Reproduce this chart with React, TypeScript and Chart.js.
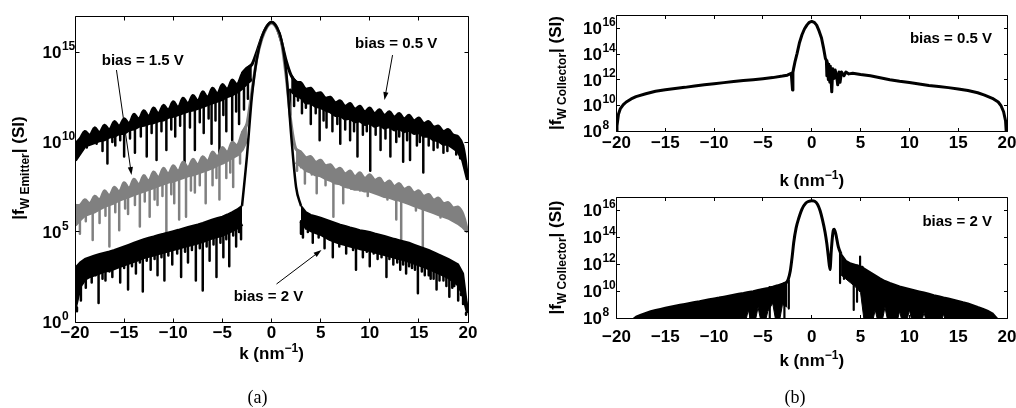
import React, { useEffect, useRef } from 'react';
import { Chart, registerables } from 'chart.js';

Chart.register(...registerables);

const N = null;

// sampling grid of k (nm^-1)
const K_GRID = [-20,-19.5,-19,-18.5,-18,-17.5,-17,-16.5,-16,-15.5,-15,-14.5,-14,-13.5,-13,-12.5,-12,-11.5,-11,-10.5,-10,-9.5,-9,-8.5,-8,-7.5,-7,-6.5,-6,-5.5,-5,-4.5,-4,-3.5,-3,-2.5,-2,-1.5,-1,-0.5,0,0.5,1,1.5,2,2.5,3,3.5,4,4.5,5,5.5,6,6.5,7,7.5,8,8.5,9,9.5,10,10.5,11,11.5,12,12.5,13,13.5,14,14.5,15,15.5,16,16.5,17,17.5,18,18.5,19,19.5,20];

const X_TICKS = [-20, -15, -10, -5, 0, 5, 10, 15, 20];
const X_TICK_LABELS = ['−20', '−15', '−10', '−5', '0', '5', '10', '15', '20'];
const Y_TICKS_A = [0, 5, 10, 15];
const Y_TICK_EXP_A = ['0', '5', '10', '15'];
const Y_TICKS_B = [8, 10, 12, 14, 16];
const Y_TICK_EXP_B = ['8', '10', '12', '14', '16'];

// ---- Panel (a): |f_W Emitter|, values are log10 ----
const TOP_05 = [9.9,10.2,10.6,10.4,10.8,10.55,10.95,10.7,11.15,10.9,11.3,11.05,11.55,11.3,11.75,11.45,11.9,11.6,12.05,11.8,12.25,11.95,12.45,12.15,12.6,12.3,12.8,12.5,13.0,12.7,13.2,12.95,13.45,13.2,13.8,14.1,14.3,
  N,N,N,N,N,N,N,
  13.7,13.35,13.3,12.95,13.0,12.7,12.75,12.45,12.5,12.2,12.3,12.0,12.15,11.85,12.0,11.7,11.9,11.6,11.8,11.5,11.7,11.4,11.6,11.3,11.5,11.2,11.35,11.05,11.15,10.85,10.9,10.6,10.7,10.4,10.3,9.8,7.9];
const BOT_05 = [9.0,9.4,9.8,9.9,10.0,10.1,10.15,10.3,10.35,10.5,10.5,10.7,10.75,10.9,10.95,11.05,11.1,11.2,11.25,11.4,11.45,11.55,11.65,11.75,11.8,11.9,12.0,12.1,12.2,12.3,12.4,12.55,12.65,12.8,13.0,13.3,13.5,
  N,N,N,N,N,N,N,
  12.9,12.6,12.5,12.2,12.2,12.0,11.95,11.8,11.7,11.5,11.5,11.3,11.35,11.15,11.2,11.0,11.1,10.9,11.0,10.8,10.9,10.7,10.8,10.6,10.7,10.5,10.55,10.35,10.35,10.15,10.1,9.9,9.9,9.7,9.5,9.0,7.9];
const TOP_15 = [6.5,6.5,6.8,6.6,7.0,6.8,7.3,7.05,7.5,7.25,7.75,7.45,7.95,7.65,8.15,7.85,8.35,8.05,8.55,8.25,8.7,8.4,8.9,8.6,9.05,8.75,9.2,8.95,9.45,9.2,9.7,9.45,10.0,9.8,10.5,11.0,
  N,N,N,N,N,N,N,N,N,
  9.6,9.45,9.15,9.2,8.9,9.0,8.7,8.75,8.45,8.55,8.25,8.4,8.1,8.3,8.0,8.2,7.9,8.0,7.7,7.85,7.55,7.7,7.4,7.5,7.2,7.3,7.0,7.1,6.8,6.9,6.6,6.65,6.35,6.4,6.0,5.0];
const BOT_15 = [5.4,5.7,5.95,6.05,6.15,6.3,6.45,6.55,6.65,6.8,6.9,7.0,7.1,7.2,7.3,7.4,7.5,7.6,7.7,7.8,7.85,7.95,8.05,8.15,8.2,8.3,8.4,8.5,8.6,8.75,8.85,9.0,9.15,9.3,9.6,10.2,
  N,N,N,N,N,N,N,N,N,
  8.9,8.7,8.45,8.35,8.2,8.15,8.0,7.9,7.75,7.7,7.55,7.5,7.4,7.4,7.3,7.3,7.2,7.1,7.0,6.95,6.85,6.8,6.7,6.6,6.5,6.4,6.3,6.2,6.1,6.0,5.9,5.8,5.65,5.5,5.3,5.0];
const TOP_20 = [3.0,3.3,3.5,3.6,3.7,3.78,3.85,3.92,4.0,4.1,4.2,4.3,4.4,4.5,4.6,4.68,4.75,4.83,4.9,4.98,5.05,5.12,5.2,5.28,5.35,5.42,5.5,5.6,5.7,5.78,5.85,5.97,6.1,6.25,6.45,
  N,N,N,N,N,N,N,N,N,N,N,
  6.45,6.1,5.95,5.88,5.8,5.7,5.6,5.5,5.4,5.33,5.25,5.18,5.1,5.05,5.0,4.92,4.85,4.78,4.7,4.62,4.55,4.48,4.4,4.3,4.2,4.1,4.0,3.88,3.75,3.63,3.5,3.35,3.2,2.7,0.5];
const BOT_20 = [0.8,2.0,2.4,2.55,2.65,2.75,2.85,2.9,3.0,3.1,3.2,3.3,3.4,3.5,3.6,3.68,3.75,3.83,3.9,3.98,4.05,4.12,4.2,4.28,4.35,4.42,4.5,4.6,4.7,4.78,4.85,4.97,5.1,5.25,5.45,
  N,N,N,N,N,N,N,N,N,N,N,
  5.6,5.3,5.1,5.0,4.9,4.75,4.6,4.5,4.4,4.33,4.25,4.18,4.1,4.05,4.0,3.92,3.85,3.78,3.7,3.62,3.55,3.48,3.4,3.3,3.2,3.1,3.0,2.88,2.75,2.63,2.5,2.3,2.1,1.6,0.5];

const PEAK_K = [-3, -2.5, -2, -1.5, -1, -0.5, 0, 0.5, 1, 1.5, 2, 2.5, 3];
const PEAK_05 = [13.8, 14.1, 14.3, 15.0, 15.8, 16.4, 16.65, 16.4, 15.6, 14.5, 13.7, 13.35, 13.3];
const PEAK_15 = [10.5, 11.0, 12.8, 14.6, 15.7, 16.35, 16.6, 16.35, 15.6, 13.6, 11.0, 9.6, 9.45];
const PEAK_20 = [6.45, 9.2, 12.5, 14.6, 15.8, 16.4, 16.65, 16.4, 15.7, 13.9, 10.4, 7.5, 6.45];

const SPIKES_05 = [[-19.7,9.2],[-19.2,9.6],[-18.8,9.7],[-18.3,9.9],[-17.8,9.9],[-17.2,9.5],[-16.7,8.8],[-16.2,10.0],[-15.9,9.8],[-15.4,10.1],[-15.0,9.2],[-14.4,10.2],[-13.9,9.4],[-13.3,10.3],[-12.7,9.2],[-12.2,10.5],[-11.7,9.0],[-11.2,10.6],[-10.7,9.55],[-10.2,10.7],[-9.8,10.3],[-9.3,10.9],[-8.85,8.8],[-8.3,10.8],[-7.8,9.55],[-7.3,11.1],[-6.9,10.5],[-6.4,11.3],[-6.1,9.9],[-5.7,11.2],[-5.3,9.4],[-4.9,11.5],[-4.6,10.6],[-4.0,10.1],[-3.6,11.7],[-3.3,11.0],[-2.8,11.8],[-2.4,12.4],
  [1.9,11.5],[2.3,12.0],[2.7,12.3],[3.1,11.6],[3.5,11.9],[4.0,11.0],[4.5,11.6],[4.9,10.1],[5.3,11.2],[5.6,10.8],[6.2,10.6],[6.7,11.0],[7.0,9.9],[7.5,10.7],[8.0,10.1],[8.4,10.6],[8.75,9.2],[9.3,10.4],[9.7,10.6],[10.05,8.4],[10.6,10.4],[11.1,9.55],[11.6,10.2],[12.1,9.2],[12.7,10.0],[13.0,10.3],[13.4,8.9],[13.8,10.1],[14.1,9.0],[14.8,9.8],[15.1,10.0],[15.45,8.3],[16.0,9.8],[16.5,9.55],[16.9,9.7],[17.5,9.4],[17.9,9.5],[18.3,9.7],[18.8,9.3],[19.2,9.1]];
const SPIKES_15 = [[-19.5,4.9],[-18.9,5.6],[-18.2,4.55],[-17.5,5.5],[-16.9,5.9],[-16.5,4.2],[-15.9,6.1],[-15.5,5.1],[-14.9,6.3],[-14.6,6.0],[-13.9,6.5],[-13.4,5.3],[-12.9,6.7],[-12.4,5.85],[-11.9,6.8],[-11.6,6.5],[-11.1,7.0],[-10.7,4.75],[-10.2,7.1],[-9.9,6.6],[-9.4,5.7],[-8.7,5.85],[-8.2,7.3],[-7.8,7.2],[-7.3,7.6],[-6.7,6.6],[-6.0,7.6],[-5.6,8.0],[-5.3,6.8],[-4.6,8.0],[-4.2,8.3],[-3.9,7.5],[-3.2,8.8],
  [2.6,8.4],[3.0,8.6],[3.4,7.7],[3.8,8.5],[4.1,8.2],[4.6,7.15],[5.1,8.1],[5.5,7.6],[5.9,8.0],[6.3,5.85],[6.8,7.7],[7.3,6.6],[7.7,7.5],[8.1,7.4],[8.6,7.6],[9.0,7.3],[9.4,7.4],[9.8,7.0],[10.3,7.3],[11.0,7.15],[11.4,7.0],[11.8,6.8],[12.3,7.0],[12.7,5.7],[13.2,4.55],[13.6,6.8],[14.0,6.6],[14.4,6.7],[14.7,6.2],[15.4,3.3],[15.9,6.4],[16.4,6.2],[16.8,6.0],[17.2,5.8],[17.8,5.9],[18.4,5.9],[18.8,5.5],[19.2,5.5]];
const SPIKES_20 = [[-19.8,0.6],[-19.4,1.2],[-18.9,1.9],[-18.3,2.2],[-17.9,2.6],[-17.6,1.05],[-17.2,2.4],[-16.9,2.3],[-16.5,2.8],[-16.2,2.5],[-15.8,3.0],[-15.4,2.2],[-15.0,3.0],[-14.6,1.8],[-14.2,3.1],[-13.8,2.7],[-13.4,3.3],[-13.1,1.7],[-12.7,3.4],[-12.3,2.9],[-11.9,3.5],[-11.6,2.6],[-11.2,3.6],[-10.9,2.3],[-10.5,3.7],[-10.1,3.2],[-9.6,3.8],[-9.2,2.5],[-8.8,3.9],[-8.5,3.3],[-8.1,4.0],[-7.7,2.3],[-7.3,4.1],[-7.0,1.75],[-6.6,4.2],[-6.3,3.4],[-5.9,4.3],[-5.6,2.5],[-5.2,4.4],[-4.9,3.6],[-4.6,4.6],[-4.3,3.1],[-3.9,4.8],[-3.6,4.2],[-3.3,5.0],[-3.1,4.6],
  [3.0,4.9],[3.2,4.7],[3.5,5.2],[3.7,5.0],[4.0,5.1],[4.2,4.4],[4.5,5.0],[4.8,4.7],[5.1,4.9],[5.4,4.1],[5.8,4.7],[6.24,3.6],[6.6,4.5],[6.9,4.2],[7.3,4.4],[7.6,3.8],[8.0,4.3],[8.3,4.0],[8.6,2.9],[9.0,4.1],[9.3,3.6],[9.7,3.9],[10.0,3.1],[10.4,3.8],[10.8,3.5],[11.2,3.6],[11.7,2.5],[12.0,3.5],[12.4,3.2],[12.8,3.3],[13.1,2.9],[13.4,3.2],[13.7,2.7],[14.0,3.1],[14.3,3.0],[14.6,2.9],[14.9,1.6],[15.3,2.8],[15.6,2.6],[16.0,2.6],[16.2,2.4],[16.5,2.4],[16.8,1.8],[17.1,2.3],[17.5,2.3],[17.8,2.0],[18.1,1.4],[18.4,1.9],[18.6,2.0],[19.0,1.2],[19.3,1.5],[19.5,1.0],[19.8,0.4]];

// ---- Panel (b) top: |f_W Collector|, bias 0.5 V ----
const K_B1 = [-20,-19.95,-19.8,-19.6,-19.3,-19,-18.5,-18,-17,-16,-15,-14,-13,-12,-11,-10,-9,-8,-7,-6,-5,-4,-3,-2.5,-2.1,-1.97,-1.93,-1.85,-1.7,-1.5,-1.25,-1,-0.75,-0.5,-0.25,0,0.25,0.5,0.75,1,1.2,1.4,1.5,1.55,1.6,1.7,1.75,1.85,1.9,2.05,2.15,2.3,2.4,2.55,2.66,2.8,2.9,3.05,3.3,3.5,3.8,4.2,5,6,7,8,9,10,11,12,13,14,15,16,17,17.7,18.5,19.1,19.4,19.65,19.85,20];
const V_B1 = [7.0,8.4,9.3,9.75,10.05,10.26,10.5,10.68,10.9,11.1,11.22,11.32,11.4,11.5,11.6,11.68,11.77,11.85,11.93,12.0,12.08,12.16,12.28,12.35,12.5,11.2,12.55,12.9,13.45,14.05,14.9,15.5,15.95,16.25,16.47,16.55,16.47,16.25,15.8,15.25,14.5,13.65,13.5,12.3,13.35,12.0,13.2,11.8,13.05,11.05,12.85,12.1,12.75,12.3,11.6,12.6,11.8,12.6,12.3,12.6,12.45,12.5,12.4,12.3,12.15,12.0,11.88,11.78,11.66,11.55,11.47,11.38,11.28,11.15,10.98,10.8,10.55,10.26,9.95,9.5,8.8,7.0];

// ---- Panel (b) bottom: |f_W Collector|, bias 2 V ----
const TOP_B2 = [N,N,N,7.8,8.1,8.25,8.38,8.5,8.6,8.68,8.76,8.84,8.91,8.98,9.05,9.12,9.19,9.25,9.32,9.39,9.46,9.52,9.59,9.66,9.73,9.8,9.86,9.93,10.0,10.08,10.16,10.24,10.33,10.43,10.55,10.7,
  N,N,N,N,N,N,N,N,N,N,
  12.75,12.25,12.05,11.95,11.85,11.62,11.4,11.17,10.95,10.75,10.6,10.47,10.34,10.25,10.16,10.07,9.98,9.89,9.8,9.7,9.62,9.53,9.45,9.36,9.27,9.17,9.08,8.95,8.82,8.7,8.55,8.35,7.95,N,N];
const BOT_B2 = [N,N,N,7.0,7.0,7.0,7.0,7.0,7.0,7.0,7.0,7.0,7.0,7.0,7.0,7.0,7.0,7.0,7.0,7.0,7.0,7.0,7.0,7.0,7.0,7.0,7.0,8.6,7.0,8.8,7.0,8.5,9.1,7.0,9.0,8.8,
  N,N,N,N,N,N,N,N,N,N,
  11.2,10.9,10.6,10.3,9.9,7.0,7.0,8.6,7.0,8.8,7.0,7.0,8.5,7.0,8.6,7.0,7.0,8.4,7.0,7.0,7.0,8.3,7.0,7.0,7.0,7.0,7.0,7.0,7.0,7.0,7.0,7.0,7.0,N,N];
const PEAK_B2 = [[-2.6,10.6],[-2.4,10.9],[-2.2,11.5],[-2.0,12.6],[-1.85,13.6],[-1.6,14.7],[-1.34,15.4],[-1.0,16.1],[-0.6,16.55],[-0.3,16.68],[0,16.72],[0.3,16.68],[0.6,16.45],[0.85,16.0],[1.1,15.3],[1.36,14.4],[1.55,13.5],[1.7,12.56],[1.87,11.6],[2.0,13.0],[2.2,14.5],[2.3,14.6],[2.45,14.3],[2.72,13.3],[3.0,12.75]];
const SPIKES_B2 = [[-6.3,7.0,9.9],[-5.1,7.5,10.1],[-4.3,7.0,10.3],[-2.8,7.8,10.6],[-2.35,8.7,10.8],[2.9,10.6,12.9],[3.3,10.9,12.3],[4.3,8.6,11.9],[4.64,9.2,11.9],[4.95,10.0,12.56],[5.2,9.6,11.8]];

const NOTES_A = [
  { text: 'bias = 1.5 V', k: -13.1, v: 14.28, align: 'center', from: [-15.78, 14.0], to: [-14.25, 8.17] },
  { text: 'bias = 0.5 V', k: 12.69, v: 15.2, align: 'center', from: [12.32, 14.83], to: [11.5, 12.33] },
  { text: 'bias = 2 V', k: -0.31, v: 1.17, align: 'center', from: [0.51, 2.11], to: [5.09, 4.0] },
];
const NOTES_B1 = [{ text: 'bias = 0.5 V', k: 18.47, v: 14.88, align: 'right' }];
const NOTES_B2 = [{ text: 'bias = 2 V', k: 18.47, v: 14.88, align: 'right' }];

const SANS = '"Liberation Sans", Arial, Helvetica, sans-serif';
const SERIF = '"Liberation Serif", "Times New Roman", Times, serif';
const BLACK = '#000000';
const GRAY = '#808080';

const p10 = (v: any) => (v === null || v === undefined ? null : Math.pow(10, v));
const onGrid = (vals: any[]) => K_GRID.map((k, i) => ({ x: k, y: p10(vals[i]) }));
const fromLists = (ks: number[], vs: number[]) => ks.map((k, i) => ({ x: k, y: p10(vs[i]) }));
const fromPairs = (pairs: number[][]) => pairs.map(([k, v]) => ({ x: k, y: p10(v) }));
const nearestIdx = (k: number) => {
  let best = 0;
  K_GRID.forEach((g, i) => { if (Math.abs(g - k) < Math.abs(K_GRID[best] - k)) best = i; });
  return best;
};
const spikesFrom = (pairs: number[][], band: any[]) => pairs.flatMap(([k, lo]) => {
  const hi = band[nearestIdx(k)];
  return [{ x: k, y: p10(hi === null ? lo + 0.5 : hi) }, { x: k, y: p10(lo) }, { x: k, y: null }];
});
const spikes3 = (tr: number[][]) => tr.flatMap(([k, lo, hi]) => [{ x: k, y: p10(hi) }, { x: k, y: p10(lo) }, { x: k, y: null }]);

const ds = (data: any[], color: string, width: number, extra: any = {}) => ({
  type: 'line', data, borderColor: color, backgroundColor: color, borderWidth: width,
  pointRadius: 0, pointHoverRadius: 0, tension: 0, fill: false, clip: 0, spanGaps: false,
  borderCapStyle: 'butt', borderJoinStyle: 'round', ...extra,
});

function runsWidth(ctx: CanvasRenderingContext2D, parts: any[]) {
  return parts.reduce((s, p) => { ctx.font = p.font; return s + ctx.measureText(p.t).width; }, 0);
}
function drawRuns(ctx: CanvasRenderingContext2D, parts: any[], x: number, y: number) {
  ctx.textAlign = 'left';
  parts.forEach((p) => { ctx.font = p.font; ctx.fillText(p.t, x, y + p.dy); x += ctx.measureText(p.t).width; });
}

function framePlugin(f: any) {
  return {
    id: 'matlabFrame',
    afterDraw(chart: any) {
      const { ctx, chartArea: a } = chart;
      const xs = chart.scales.x;
      const ys = chart.scales.y;
      const L = Math.floor(a.left) + 0.5, R = Math.floor(a.right) + 0.5;
      const T = Math.floor(a.top) + 0.5, B = Math.floor(a.bottom) + 0.5;
      const MAIN = `bold 17px ${SANS}`;
      const SMALL = `bold 12px ${SANS}`;
      ctx.save();
      ctx.strokeStyle = BLACK; ctx.fillStyle = BLACK; ctx.lineWidth = 1;
      ctx.beginPath();
      ctx.rect(L, T, R - L, B - T);
      f.xTicks.forEach((k: number) => {
        const px = Math.floor(xs.getPixelForValue(k)) + 0.5;
        ctx.moveTo(px, B); ctx.lineTo(px, B - f.tickLen);
        ctx.moveTo(px, T); ctx.lineTo(px, T + f.tickLen);
      });
      f.yTicks.forEach((e: number) => {
        const py = Math.floor(ys.getPixelForValue(Math.pow(10, e))) + 0.5;
        ctx.moveTo(L, py); ctx.lineTo(L + f.tickLen, py);
        ctx.moveTo(R, py); ctx.lineTo(R - f.tickLen, py);
      });
      ctx.stroke();

      ctx.textBaseline = 'alphabetic';
      ctx.font = MAIN; ctx.textAlign = 'center';
      f.xTicks.forEach((k: number, i: number) => ctx.fillText(f.xLabels[i], xs.getPixelForValue(k), f.xLabelY));
      f.yTicks.forEach((e: number, i: number) => {
        const py = ys.getPixelForValue(Math.pow(10, e));
        ctx.textAlign = 'left'; ctx.font = MAIN;
        ctx.fillText('10', f.yLabelX, py + 6);
        const w = ctx.measureText('10').width;
        ctx.font = SMALL;
        ctx.fillText(f.yExp[i], f.yLabelX + w + 0.5, py - 2.5);
      });

      const xt = [{ t: 'k (nm', font: MAIN, dy: 0 }, { t: '−1', font: SMALL, dy: -7 }, { t: ')', font: MAIN, dy: 0 }];
      const xw = runsWidth(ctx, xt);
      drawRuns(ctx, xt, (a.left + a.right) / 2 - xw / 2, f.xTitleY);

      const yt = [{ t: '|f', font: MAIN, dy: 0 }, { t: f.ySub, font: SMALL, dy: 5 }, { t: '| (SI)', font: MAIN, dy: 0 }];
      const yw = runsWidth(ctx, yt);
      ctx.save();
      ctx.translate(f.yTitleX, f.yTitleY);
      ctx.rotate(-Math.PI / 2);
      drawRuns(ctx, yt, -yw / 2, 0);
      ctx.restore();

      f.notes.forEach((n: any) => {
        ctx.font = `bold 15px ${SANS}`;
        ctx.textAlign = n.align;
        ctx.fillText(n.text, xs.getPixelForValue(n.k), ys.getPixelForValue(Math.pow(10, n.v)));
        if (n.from && n.to) {
          const x0 = xs.getPixelForValue(n.from[0]), y0 = ys.getPixelForValue(Math.pow(10, n.from[1]));
          const x1 = xs.getPixelForValue(n.to[0]), y1 = ys.getPixelForValue(Math.pow(10, n.to[1]));
          const ang = Math.atan2(y1 - y0, x1 - x0);
          const c = Math.cos(ang), s = Math.sin(ang);
          const hl = 8, hw = 2.6;
          ctx.lineWidth = 1;
          ctx.beginPath(); ctx.moveTo(x0, y0); ctx.lineTo(x1 - hl * 0.6 * c, y1 - hl * 0.6 * s); ctx.stroke();
          ctx.beginPath();
          ctx.moveTo(x1, y1);
          ctx.lineTo(x1 - hl * c + hw * s, y1 - hl * s - hw * c);
          ctx.lineTo(x1 - hl * c - hw * s, y1 - hl * s + hw * c);
          ctx.closePath(); ctx.fill();
        }
      });

      if (f.caption) {
        ctx.font = `18px ${SERIF}`;
        ctx.textAlign = 'center';
        ctx.fillText(f.caption, f.captionX, f.captionY);
      }
      ctx.restore();
    },
  };
}

function makeConfig(datasets: any[], padding: any, frame: any) {
  return {
    type: 'line',
    data: { datasets },
    options: {
      responsive: false,
      animation: false,
      events: [],
      layout: { padding },
      plugins: { legend: { display: false }, tooltip: { enabled: false } },
      scales: {
        x: { type: 'linear', display: false, min: -20, max: 20 },
        y: { type: 'logarithmic', display: false, min: frame.yMin, max: frame.yMax },
      },
    },
    plugins: [framePlugin(frame)],
  } as any;
}

function buildA() {
  const datasets = [
    ds(onGrid(TOP_20), BLACK, 2, { order: 0 }),
    ds(onGrid(BOT_20), BLACK, 4, { order: 1, fill: '-1' }),
    ds(spikesFrom(SPIKES_20, BOT_20), BLACK, 2.5, { order: 2 }),
    ds(fromLists(PEAK_K, PEAK_20), BLACK, 2.5, { order: 3, cubicInterpolationMode: 'monotone' }),
    ds(onGrid(TOP_15), GRAY, 2.5, { order: 10, tension: 0.4 }),
    ds(onGrid(BOT_15), GRAY, 4, { order: 11, fill: '-1' }),
    ds(spikesFrom(SPIKES_15, BOT_15), GRAY, 2.5, { order: 12 }),
    ds(fromLists(PEAK_K, PEAK_15), GRAY, 3, { order: 13, cubicInterpolationMode: 'monotone' }),
    ds(onGrid(TOP_05), BLACK, 2.5, { order: 20, tension: 0.4 }),
    ds(onGrid(BOT_05), BLACK, 4, { order: 21, fill: '-1' }),
    ds(spikesFrom(SPIKES_05, BOT_05), BLACK, 2.5, { order: 22 }),
    ds(fromLists(PEAK_K, PEAK_05), BLACK, 3, { order: 23, cubicInterpolationMode: 'monotone' }),
  ];
  return makeConfig(datasets, { left: 75, top: 16, right: 22, bottom: 86 }, {
    yMin: 1, yMax: 1e17, xTicks: X_TICKS, xLabels: X_TICK_LABELS, yTicks: Y_TICKS_A, yExp: Y_TICK_EXP_A,
    tickLen: 4, xLabelY: 338, xTitleY: 358.5, yLabelX: 42.5, yTitleX: 24, yTitleY: 168, ySub: 'W Emitter',
    notes: NOTES_A, caption: '(a)', captionX: 257.5, captionY: 403,
  });
}

function buildB1() {
  const datasets = [ds(fromLists(K_B1, V_B1), BLACK, 3)];
  return makeConfig(datasets, { left: 136.5, top: 15.5, right: 9, bottom: 65 }, {
    yMin: 1e8, yMax: 1e17, xTicks: X_TICKS, xLabels: X_TICK_LABELS, yTicks: Y_TICKS_B, yExp: Y_TICK_EXP_B,
    tickLen: 3.5, xLabelY: 148, xTitleY: 186, yLabelX: 103, yTitleX: 81, yTitleY: 73, ySub: 'W Collector',
    notes: NOTES_B1, caption: null,
  });
}

function buildB2() {
  const datasets = [
    ds(onGrid(TOP_B2), BLACK, 2, { order: 0 }),
    ds(onGrid(BOT_B2), BLACK, 1, { order: 1, fill: '-1' }),
    ds(fromPairs(PEAK_B2), BLACK, 3, { order: 2, cubicInterpolationMode: 'monotone' }),
    ds(spikes3(SPIKES_B2), BLACK, 2.2, { order: 3 }),
  ];
  return makeConfig(datasets, { left: 136.5, top: 1, right: 9, bottom: 90 }, {
    yMin: 1e8, yMax: 1e17, xTicks: X_TICKS, xLabels: X_TICK_LABELS, yTicks: Y_TICKS_B, yExp: Y_TICK_EXP_B,
    tickLen: 3.5, xLabelY: 146, xTitleY: 170, yLabelX: 103, yTitleX: 81, yTitleY: 61.5, ySub: 'W Collector',
    notes: NOTES_B2, caption: '(b)', captionX: 315, captionY: 207,
  });
}

export default function App() {
  const refA = useRef<HTMLCanvasElement>(null);
  const refB1 = useRef<HTMLCanvasElement>(null);
  const refB2 = useRef<HTMLCanvasElement>(null);

  useEffect(() => {
    const charts = [
      new Chart(refA.current as HTMLCanvasElement, buildA()),
      new Chart(refB1.current as HTMLCanvasElement, buildB1()),
      new Chart(refB2.current as HTMLCanvasElement, buildB2()),
    ];
    return () => charts.forEach((c) => c.destroy());
  }, []);

  return (
    <div style={{ position: 'fixed', left: 0, top: 0, width: 1016, height: 408, background: '#ffffff', overflow: 'hidden' }}>
      <canvas ref={refA} width={490} height={408} style={{ position: 'absolute', left: 0, top: 0, width: 490, height: 408 }} />
      <canvas ref={refB1} width={536} height={196} style={{ position: 'absolute', left: 480, top: 0, width: 536, height: 196 }} />
      <canvas ref={refB2} width={536} height={212} style={{ position: 'absolute', left: 480, top: 196, width: 536, height: 212 }} />
    </div>
  );
}
